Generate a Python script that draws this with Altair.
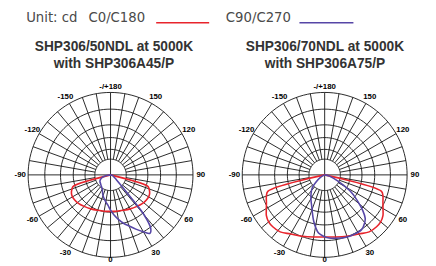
import altair as alt
import pandas as pd

# ---------------- data ----------------
panels = ["L", "R"]
title_line1 = ["SHP306/50NDL at 5000K", "SHP306/70NDL at 5000K"]
title_line2 = ["with SHP306A45/P", "with SHP306A75/P"]

ring_radii = [16, 26, 38, 51, 67, 84]
spoke_angles = list(range(0, 360, 10))
label_angles = [0, 30, 60, 90, 120, 150, 180, -150, -120, -90, -60, -30]
label_texts = ["0", "30", "60", "90", "120", "150", "-/+180", "-150", "-120", "-90", "-60", "-30"]

# C0/C180 (symmetric): gamma angle (deg) and intensity (relative cd)
red_gamma_L = [0, 10, 20, 30, 40, 45, 50, 55, 60, 65, 70, 73, 90]
red_L = [37.2, 37.6, 38.4, 40, 41.9, 43, 44, 44.6, 44.8, 44, 41.8, 39.5, 0]
red_gamma_R = [0, 10, 20, 30, 38, 45, 50, 55, 60, 65, 70, 74, 90]
red_R = [63.3, 64.3, 66.5, 69.5, 73.7, 74.8, 74.5, 72.5, 68.6, 65.5, 63.2, 60, 0]

# C90/C270: signed gamma (negative = C270 side)
purple_gamma_L = [-90, -80, -70, -60, -45, -30, -20, -10, -5, 0, 5, 10, 15, 20, 25, 30, 34, 37, 40, 42, 45, 50, 60, 75, 90]
purple_L = [0, 5, 10, 12.5, 14, 17, 22.5, 28, 31, 36, 41, 46, 51, 55.5, 61, 67, 71.8, 68, 53, 30, 15, 8, 4, 2, 0]
purple_gamma_R = [-90, -60, -50, -45, -40, -30, -23, -13, -6, 0, 4, 10, 18, 25, 34, 40, 43, 47, 51, 55, 58, 65, 75, 90]
purple_R = [0, 5, 12, 17, 21, 28, 34, 49, 59.6, 63, 64.4, 65.5, 67, 67.5, 67.3, 63.5, 60.6, 53, 43.8, 36, 30, 15, 5, 0]

# ---------------- tables ----------------
rows = []
for p, g, v in [("L", red_gamma_L, red_L), ("R", red_gamma_R, red_R)]:
    full = [(-a, r) for a, r in zip(g[::-1], v[::-1])] + [(a, r) for a, r in zip(g[1:], v[1:])]
    for i, (a, r) in enumerate(full):
        rows.append({"panel": p, "series": "C0/C180", "ord": i, "g": a, "r": r})
for p, g, v in [("L", purple_gamma_L, purple_L), ("R", purple_gamma_R, purple_R)]:
    for i, (a, r) in enumerate(zip(g, v)):
        rows.append({"panel": p, "series": "C90/C270", "ord": i, "g": a, "r": r})
curves = pd.DataFrame(rows)

rings = pd.DataFrame([{"panel": p, "ring": rr, "g": a, "r": rr}
                      for p in panels for rr in ring_radii for a in range(0, 361, 3)])
spokes = pd.DataFrame([{"panel": p, "g": a,
                        "r0": 0 if a % 90 == 0 else ring_radii[0], "r1": ring_radii[-1]}
                       for p in panels for a in spoke_angles])
labels = pd.DataFrame([{"panel": p, "g": a, "txt": t}
                       for p in panels for a, t in zip(label_angles, label_texts)])
titles = pd.DataFrame([{"panel": p, "line": i, "txt": t}
                       for p, l1, l2 in zip(panels, title_line1, title_line2)
                       for i, t in enumerate([l1, l2])])

W, H = 428, 258
CX = "datum.panel == 'L' ? 104.5 : 322.7"
CY = "167.6"
xs = alt.Scale(domain=[0, W], nice=False, zero=False)
ys = alt.Scale(domain=[0, H], nice=False, zero=False, reverse=True)
X = lambda f: alt.X(f, type="quantitative", scale=xs, axis=None)
Y = lambda f: alt.Y(f, type="quantitative", scale=ys, axis=None)
series_scale = alt.Scale(domain=["C0/C180", "C90/C270"], range=["#e8242c", "#5646a6"])

ring_layer = alt.Chart(rings).transform_calculate(
    x=f"({CX}) + datum.r*sin(datum.g*PI/180)",
    y=f"({CY}) + datum.r*cos(datum.g*PI/180)",
).mark_line(color="#111111", strokeWidth=0.9).encode(
    x=X("x"), y=Y("y"), detail=["panel:N", "ring:N"], order="g:Q")

spoke_layer = alt.Chart(spokes).transform_calculate(
    x=f"({CX}) + datum.r0*sin(datum.g*PI/180)",
    y=f"({CY}) + datum.r0*cos(datum.g*PI/180)",
    x2=f"({CX}) + datum.r1*sin(datum.g*PI/180)",
    y2=f"({CY}) + datum.r1*cos(datum.g*PI/180)",
).mark_rule(color="#111111", strokeWidth=0.9).encode(
    x=X("x"), y=Y("y"), x2="x2:Q", y2="y2:Q")

curve_layer = alt.Chart(curves).transform_calculate(
    x=f"({CX}) + datum.r*sin(datum.g*PI/180)",
    y=f"({CY}) + datum.r*cos(datum.g*PI/180)",
).mark_line(strokeWidth=1.6, strokeJoin="round", interpolate="catmull-rom").encode(
    x=X("x"), y=Y("y"),
    color=alt.Color("series:N", scale=series_scale, legend=None),
    detail="panel:N", order="ord:Q")

label_layer = alt.Chart(labels).transform_calculate(
    rl="datum.g == 0 ? 87 : (datum.g == 180 ? 90 : 92)",
).transform_calculate(
    x=f"({CX}) + datum.rl*sin(datum.g*PI/180)",
    y=f"({CY}) + datum.rl*cos(datum.g*PI/180)",
).mark_text(font="Liberation Sans", fontWeight="bold", fontSize=8, color="#000000",
            align="center", baseline="middle").encode(
    x=X("x"), y=Y("y"), text="txt:N")

title_layer = alt.Chart(titles).transform_calculate(
    x="datum.panel == 'L' ? 108 : 323",
    y="37 + datum.line*17.7",
).mark_text(font="Liberation Sans", fontWeight="bold", fontSize=14, color="#333333",
            align="center", baseline="middle").encode(
    x=X("x"), y=Y("y"), text="txt:N")

legend_txt = pd.DataFrame({"txt": ["Unit: cd", "C0/C180", "C90/C270"]})
leg_text = alt.Chart(legend_txt).transform_calculate(
    x="datum.txt == 'Unit: cd' ? 18.5 : (datum.txt == 'C0/C180' ? 82 : 222)",
    y="8",
).mark_text(font="DejaVu Sans", fontSize=13.5, color="#4a4a4a",
            align="left", baseline="middle").encode(
    x=X("x"), y=Y("y"), text="txt:N")

legend_lines = pd.DataFrame({"series": ["C0/C180", "C90/C270"]})
leg_lines = alt.Chart(legend_lines).transform_calculate(
    x="datum.series == 'C0/C180' ? 151 : 297",
    x2="datum.series == 'C0/C180' ? 205 : 352",
    y="12.5",
).mark_rule(strokeWidth=1.6).encode(
    x=X("x"), x2="x2:Q", y=Y("y"),
    color=alt.Color("series:N", scale=series_scale, legend=None))

chart = alt.layer(ring_layer, spoke_layer, curve_layer, label_layer, title_layer,
                  leg_text, leg_lines).properties(
    width=W, height=H, autosize="none", padding=0, background="white"
).configure_view(stroke=None)

chart.save("out.html", embed_options={"renderer": "svg", "actions": False})
